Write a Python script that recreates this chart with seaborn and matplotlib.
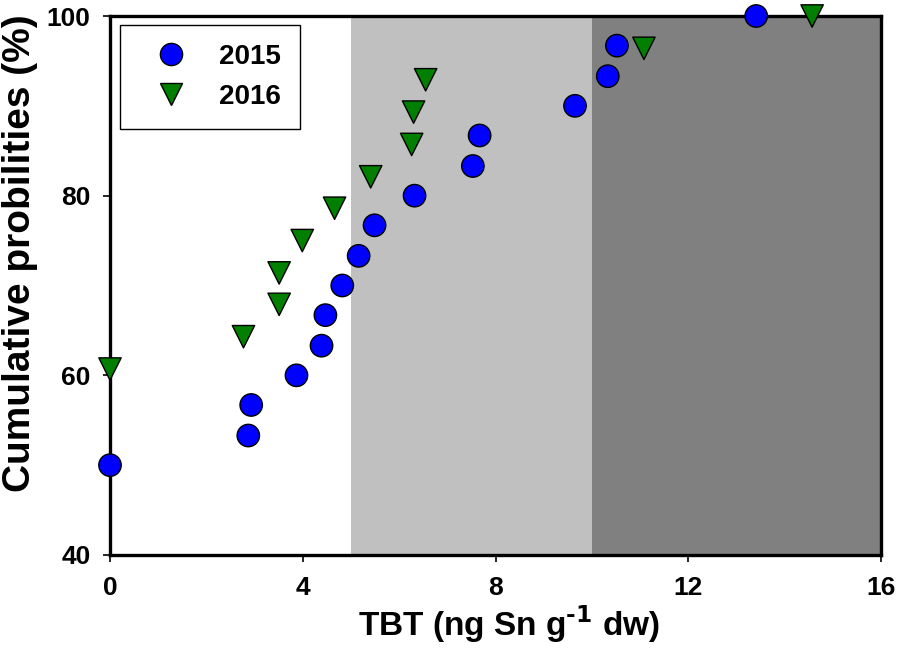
import matplotlib
matplotlib.use("Agg")
import matplotlib.pyplot as plt
import seaborn as sns
import pandas as pd
from matplotlib.lines import Line2D

sns.set_style("white")
plt.rcParams['font.family'] = ['Liberation Sans', 'DejaVu Sans']
plt.rcParams['font.weight'] = 'bold'
plt.rcParams['mathtext.default'] = 'bf'

x2015 = [0, 2.87, 2.93, 3.87, 4.39, 4.47, 4.82, 5.16, 5.49, 6.32, 7.53, 7.67, 9.65, 10.33, 10.52, 13.41]
y2015 = [50.0, 53.3, 56.7, 60.0, 63.3, 66.7, 70.0, 73.3, 76.7, 80.0, 83.3, 86.7, 90.0, 93.3, 96.7, 100.0]
x2016 = [0, 2.77, 3.51, 3.51, 3.99, 4.66, 5.41, 6.26, 6.30, 6.55, 11.08, 14.57]
y2016 = [60.7, 64.3, 67.9, 71.4, 75.0, 78.6, 82.1, 85.7, 89.3, 92.9, 96.4, 100.0]
xticks = [0, 4, 8, 12, 16]
yticks = [40, 60, 80, 100]
zones = [(0, 5, 'white'), (5, 10, '#c0c0c0'), (10, 16, '#808080')]

df = pd.DataFrame({
    'x': x2015 + x2016,
    'y': y2015 + y2016,
    'year': ['2015'] * len(x2015) + ['2016'] * len(x2016),
})

fig = plt.figure(figsize=(8.98, 6.66), dpi=100)
ax = fig.add_axes([110/898, 1 - 555/666, (881-110)/898, (555-16)/666])

for a, b, c in zones:
    ax.axvspan(a, b, color=c, zorder=0, lw=0)

sns.scatterplot(data=df, x='x', y='y', hue='year', style='year',
                palette={'2015': '#0000ff', '2016': '#007f00'},
                markers={'2015': 'o', '2016': 'v'},
                s=260, edgecolor='black', linewidth=1.0, ax=ax, zorder=5,
                clip_on=False, legend=False)

ax.set_xlim(0, 16)
ax.set_ylim(40, 100)
ax.set_xticks(xticks)
ax.set_yticks(yticks)
ax.tick_params(axis='both', direction='out', length=5, width=1.2, labelsize=19,
               colors='black', labelcolor='black', bottom=True, left=True)
ax.tick_params(axis='x', pad=10)
ax.tick_params(axis='y', pad=9)
for lab in ax.get_xticklabels() + ax.get_yticklabels():
    lab.set_fontweight('bold')
for sp in ax.spines.values():
    sp.set_visible(True)
    sp.set_linewidth(2.4)
    sp.set_color('black')
    sp.set_zorder(3)

ax.set_xlabel('TBT (ng Sn g$^{\\text{-}\\mathbf{1}}$ dw)', fontsize=24, fontweight='bold', color='black')
ax.set_ylabel('Cumulative probilities (%)', fontsize=28, fontweight='bold', color='black')
ax.xaxis.set_label_coords(0.517, -0.09)
ax.yaxis.set_label_coords(-0.093, 0.56)

handles = [
    Line2D([], [], marker='o', ls='', markersize=16, markerfacecolor='#0000ff', markeredgecolor='black', markeredgewidth=1.0),
    Line2D([], [], marker='v', ls='', markersize=16, markerfacecolor='#007f00', markeredgecolor='black', markeredgewidth=1.0),
]
leg = ax.legend(handles, ['2015', '2016'], loc='upper left',
                bbox_to_anchor=((120-110)/771, (555-25)/539),
                frameon=True, fancybox=False, edgecolor='black', framealpha=1,
                prop={'weight': 'bold', 'size': 20}, handlelength=2.3, handletextpad=0.6,
                borderpad=0.68, labelspacing=0.5, borderaxespad=0)
leg.get_frame().set_linewidth(1.0)
leg.set_zorder(10)
for t in leg.get_texts():
    t.set_color('black')

fig.savefig('out.png', dpi=100)
